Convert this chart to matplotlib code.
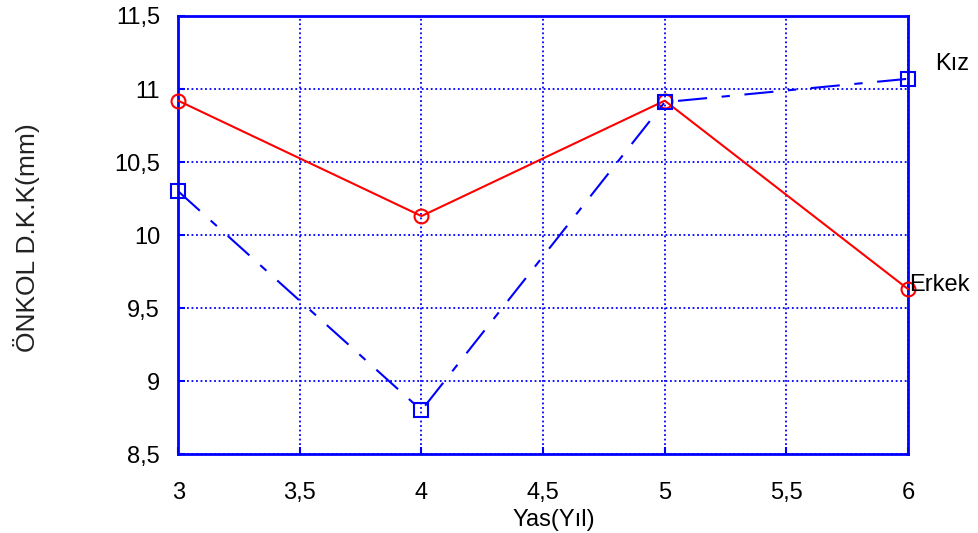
import numpy as np
import matplotlib
matplotlib.use('Agg')
import matplotlib.pyplot as plt
from matplotlib.ticker import FuncFormatter

plt.rcParams['font.family'] = ['Liberation Sans', 'DejaVu Sans']

yas = [3, 4, 5, 6]
erkek = [10.92, 10.13, 10.92, 9.63]
kiz = [10.30, 8.80, 10.91, 11.07]

xticks = [3, 3.5, 4, 4.5, 5, 5.5, 6]
yticks = [8.5, 9, 9.5, 10, 10.5, 11, 11.5]

def virgul(v, pos):
    s = ('%g' % v)
    return s.replace('.', ',')

fig = plt.figure(figsize=(9.79, 5.33), dpi=100)
ax = fig.add_axes([0.182, 0.148, 0.7455, 0.822])

ax.plot(yas, erkek, color='red', lw=1.5, marker='o', ms=10, mfc='none', mew=1.5, clip_on=False, zorder=3)
ax.plot(yas, kiz, color='blue', lw=1.5, marker='s', ms=10, mfc='none', mew=1.5,
        dashes=(14, 7, 4, 7), clip_on=False, zorder=3)

ax.set_xlim(3, 6)
ax.set_ylim(8.5, 11.5)
ax.set_xticks(xticks)
ax.set_yticks(yticks)
ax.xaxis.set_major_formatter(FuncFormatter(virgul))
ax.yaxis.set_major_formatter(FuncFormatter(virgul))
ax.grid(True, color='blue', linestyle=(0, (1, 1.5)), linewidth=1.3)
for sp in ax.spines.values():
    sp.set_color('blue')
    sp.set_linewidth(2)
ax.tick_params(direction='in', color='blue', length=5, width=1.5, labelsize=17)
ax.tick_params(axis='x', pad=20)
ax.tick_params(axis='y', pad=13)

ax.text(6.11, 11.17, 'Kız', fontsize=17, ha='left', va='center')
ax.text(6.005, 9.66, 'Erkek', fontsize=17, ha='left', va='center')

ax.set_xlabel('Yas(Yıl)', fontsize=17)
ax.xaxis.set_label_coords(0.514, -0.125)
ax.set_ylabel('ÖNKOL D.K.K(mm)', fontsize=19, color='#222222')
ax.yaxis.set_label_coords(-0.19, 0.495)

plt.savefig('out.png', dpi=100)
